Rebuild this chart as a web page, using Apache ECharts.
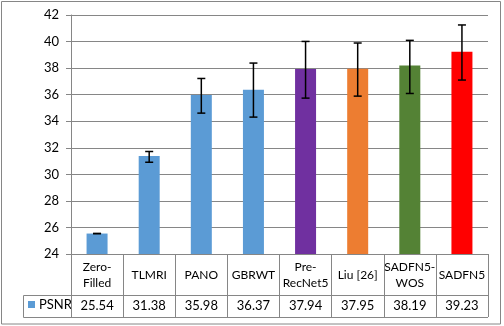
<!DOCTYPE html>
<html><head><meta charset="utf-8">
<script src="https://cdn.jsdelivr.net/npm/echarts@6/dist/echarts.min.js"></script>
<style>html,body{margin:0;padding:0;background:#fff}#c{width:504px;height:326px}</style>
</head><body><div id="c"></div>
<script>
const categories = ['Zero-\nFilled','TLMRI','PANO','GBRWT','Pre-\nRecNet5','Liu [26]','SADFN5-\nWOS','SADFN5'];
const psnr = [25.54, 31.38, 35.98, 36.37, 37.94, 37.95, 38.19, 39.23];
const errLow = [25.54, 30.91, 34.61, 34.31, 35.74, 35.89, 36.09, 37.10];
const errHigh = [25.54, 31.72, 37.22, 38.38, 40.01, 39.89, 40.09, 41.25];
const barColors = ['#5B9BD5','#5B9BD5','#5B9BD5','#5B9BD5','#7030A0','#ED7D31','#548235','#FF0000'];
const yTicks = {min: 24, max: 42, interval: 2};
const seriesName = 'PSNR';

const FONT = 'Lato';
const GRAY = '#868686';
const L = 71, R = 488, T = 15, B = 254;
const chart = echarts.init(document.getElementById('c'), null, {renderer: 'canvas'});
const option = {
  animation: false,
  backgroundColor: '#fff',
  textStyle: {fontFamily: FONT, color: '#000'},
  grid: {left: L, right: 504 - R, top: T, bottom: 326 - B},
  xAxis: [{
    type: 'category', data: categories, position: 'bottom',
    axisLine: {show: true, lineStyle: {color: GRAY, width: 1}},
    axisTick: {show: true, length: 63, interval: 0, lineStyle: {color: GRAY, width: 1}},
    axisLabel: {
      interval: 0, margin: 5, color: '#000', fontFamily: FONT, fontSize: 12,
      formatter: function (v) {
        const parts = v.split('\n');
        if (parts.length === 1) return '{one|' + v + '}';
        return parts.map(p => '{two|' + p + '}').join('\n');
      },
      rich: {one: {lineHeight: 32, fontSize: 12, fontFamily: FONT, color: '#000'},
             two: {lineHeight: 16, fontSize: 12, fontFamily: FONT, color: '#000'}}
    }
  }, {
    type: 'category', data: psnr.map(v => v.toFixed(2)), position: 'bottom', offset: 41,
    axisLine: {show: false}, axisTick: {show: false},
    axisLabel: {interval: 0, margin: 0, color: '#000', fontFamily: FONT, fontSize: 13,
      formatter: v => '{a|' + v + '}', rich: {a: {lineHeight: 22, fontSize: 13, fontFamily: FONT}}}
  }],
  yAxis: {
    type: 'value', min: yTicks.min, max: yTicks.max, interval: yTicks.interval,
    axisLine: {show: true, lineStyle: {color: GRAY}},
    axisTick: {show: true, length: 5, lineStyle: {color: GRAY}},
    axisLabel: {margin: 12, color: '#000', fontFamily: FONT, fontSize: 13},
    splitLine: {show: true, lineStyle: {color: GRAY, width: 1}}
  },
  series: [{
    name: seriesName, type: 'bar', barWidth: 21,
    data: psnr.map((v, i) => ({value: v, itemStyle: {color: barColors[i]}}))
  }, {
    type: 'custom', name: 'err',
    data: psnr.map((v, i) => [i, errLow[i], errHigh[i]]),
    renderItem: function (params, api) {
      const x = api.value(0);
      const lo = api.coord([x, api.value(1)]);
      const hi = api.coord([x, api.value(2)]);
      const hw = 4;
      const st = {stroke: '#000', lineWidth: 1.5};
      return {type: 'group', children: [
        {type: 'line', shape: {x1: lo[0], y1: lo[1], x2: hi[0], y2: hi[1]}, style: st},
        {type: 'line', shape: {x1: lo[0] - hw, y1: lo[1], x2: lo[0] + hw, y2: lo[1]}, style: st},
        {type: 'line', shape: {x1: hi[0] - hw, y1: hi[1], x2: hi[0] + hw, y2: hi[1]}, style: st}
      ]};
    },
    z: 5
  }],
  graphic: [
    {type: 'rect', shape: {x: 1.5, y: 1.5, width: 499, height: 322.5}, style: {fill: null, stroke: GRAY, lineWidth: 1}, silent: true},
    {type: 'line', shape: {x1: 23.5, y1: 295.5, x2: R, y2: 295.5}, style: {stroke: GRAY, lineWidth: 1}},
    {type: 'line', shape: {x1: 23.5, y1: 317.5, x2: R, y2: 317.5}, style: {stroke: GRAY, lineWidth: 1}},
    {type: 'line', shape: {x1: 23.5, y1: 295.5, x2: 23.5, y2: 317.5}, style: {stroke: GRAY, lineWidth: 1}},
    {type: 'rect', shape: {x: 28, y: 301, width: 7, height: 7}, style: {fill: barColors[0]}},
    {type: 'text', x: 39, y: 305, style: {text: seriesName, fontFamily: FONT, fontSize: 13, fill: '#000', verticalAlign: 'middle'}}
  ]
};
chart.setOption(option);
</script></body></html>
